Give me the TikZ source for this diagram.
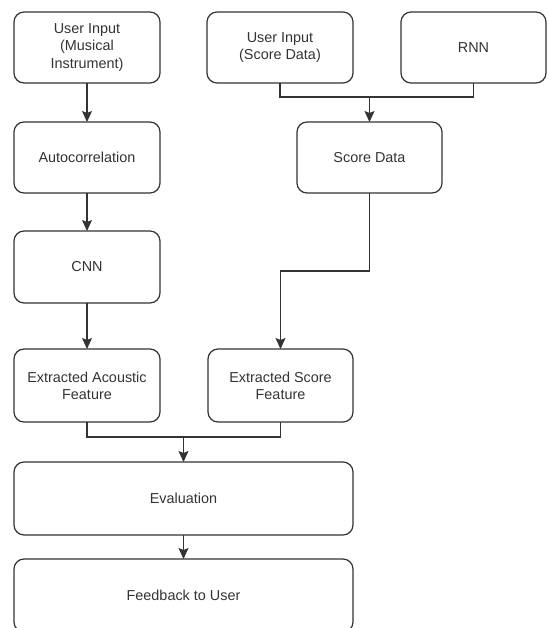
\documentclass[tikz,border=0pt]{standalone}
\usepackage{fontspec}
\setmainfont{Liberation Sans}
\usetikzlibrary{arrows.meta}
\definecolor{inkgray}{HTML}{333333}
\tikzset{
  stepbox/.style={draw=inkgray, rounded corners=10pt, line width=1.2pt, outer sep=0, inner sep=0,
    text=inkgray, align=center, font=\fontsize{14.4}{17.3}\selectfont,
    minimum width=146pt, minimum height=72pt},
  flow/.style={draw=inkgray, line width=1.1pt},
  arr/.style={flow, -{Stealth[length=11pt, width=10pt, inset=2pt]}}
}
\begin{document}
\begin{tikzpicture}[x=1pt, y=-1pt]
\useasboundingbox (0,0) rectangle (548,628);
%%% Start top row
        \draw node[stepbox, minimum height=71pt] (instr) at (87,47.5) {User Input\\(Musical\\Instrument)};
        \draw node[stepbox, minimum height=71pt] (scorein) at (280,47.5) {User Input\\(Score Data)};
        \draw node[stepbox, minimum height=71pt, minimum width=145pt] (rnn) at (473.5,47.5) {RNN};
%%% End top row
%%% Start acoustic branch
        \draw node[stepbox, minimum height=71pt] (autocorr) at (87,157.5) {Autocorrelation};
        \draw node[stepbox] (cnn) at (87,267) {CNN};
        \draw node[stepbox, minimum height=73pt] (acfeat) at (87,385.5) {Extracted Acoustic\\Feature};
%%% End acoustic branch
%%% Start score branch
        \draw node[stepbox, minimum height=71pt, minimum width=145pt] (scoredata) at (369.5,157.5) {Score Data};
        \draw node[stepbox, minimum height=73pt, minimum width=145pt] (scfeat) at (280.5,385.5) {Extracted Score\\Feature};
%%% End score branch
%%% Start evaluation / feedback
        \draw node[stepbox, minimum width=339pt, minimum height=73pt] (eval) at (183.5,498.5) {Evaluation};
        \draw node[stepbox, minimum width=339pt, minimum height=73pt] (feedback) at (183.5,595.5) {Feedback to User};
%%% End evaluation / feedback
%%% Start connectors
        \coordinate (topjoin) at (scoredata.north |- 0,97);
        \coordinate (bend) at (scoredata.south |- 0,271);
        \coordinate (botjoin) at (eval.north |- 0,437);
        \draw[arr] (instr) -- (autocorr);
        \draw[arr] (autocorr) -- (cnn);
        \draw[arr] (cnn) -- (acfeat);
        \draw[flow] (scorein.south) |- (topjoin) -| (rnn.south);
        \draw[arr] (topjoin) -- (scoredata.north);
        \draw[arr] (scoredata.south) -- (bend) -| (scfeat.north);
        \draw[flow] (acfeat.south) |- (botjoin) -| (scfeat.south);
        \draw[arr] (botjoin) -- (eval.north);
        \draw[arr] (eval) -- (feedback);
%%% End connectors
\end{tikzpicture}
\end{document}
